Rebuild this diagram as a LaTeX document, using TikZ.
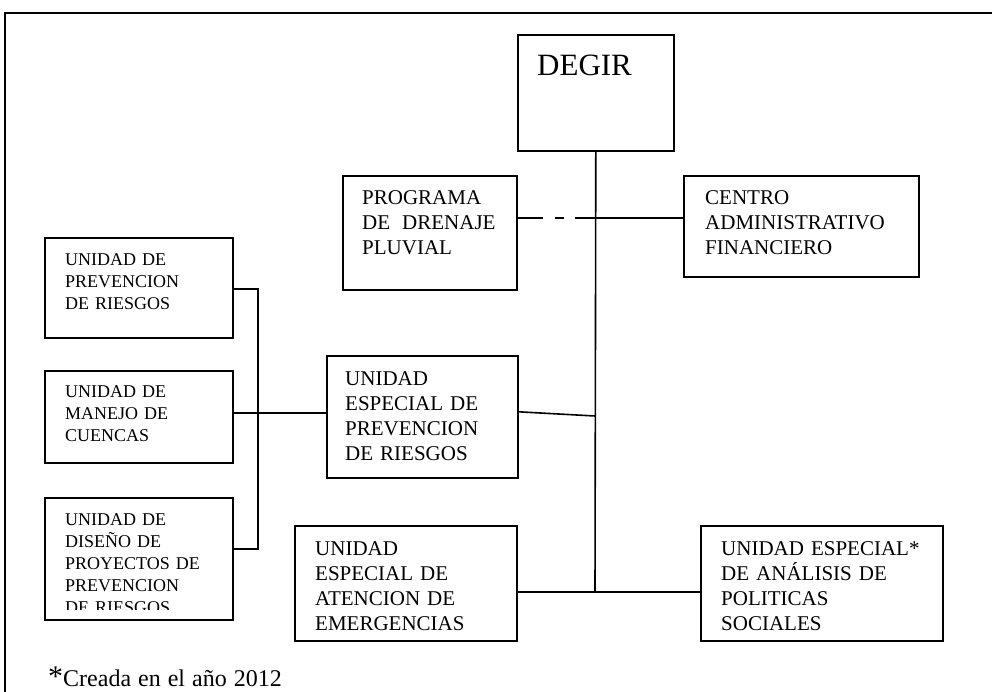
\documentclass[tikz,border=0pt]{standalone}
\usepackage{fontspec}
\setmainfont{Liberation Serif}
\usetikzlibrary{calc}

\begin{document}
\begin{tikzpicture}[x=1pt,y=-1pt,
	unit_box/.style={draw,line width=1.6pt,anchor=north west,inner sep=0pt},
	unit_text/.style={anchor=base west,inner sep=0pt,text width=240pt,align=left,font=\fontsize{21}{25}\selectfont},
	small_text/.style={unit_text,font=\fontsize{18}{22}\selectfont},
	link/.style={line width=1.6pt}]
	\useasboundingbox (0,0) rectangle (992,692);
	\draw[link] (5,692) -- (5,13) -- (992,13);
	
	% boxes
	\node[unit_box, minimum width=156pt, minimum height=116pt] (degir) at (517,34) {};
	\node[unit_box, minimum width=174pt, minimum height=114pt] (prog) at (342,175) {};
	\node[unit_box, minimum width=235pt, minimum height=101pt] (centro) at (683,175) {};
	\node[unit_box, minimum width=191pt, minimum height=122pt] (uepr) at (326,355) {};
	\node[unit_box, minimum width=188pt, minimum height=100pt] (upr) at (44,237) {};
	\node[unit_box, minimum width=188pt, minimum height=92pt] (umc) at (44,370) {};
	\node[unit_box, minimum width=188pt, minimum height=122pt] (udp) at (44,497) {};
	\node[unit_box, minimum width=222pt, minimum height=115pt] (ueae) at (294,525) {};
	\node[unit_box, minimum width=242pt, minimum height=115pt] (ueap) at (700,525) {};
	
	% texts
	\node[unit_text, font=\fontsize{31}{31}\selectfont] (degir_t) at (537,76) {DEGIR};
	\node[unit_text] (prog_t) at (362,205) {PROGRAMA\\DE\hspace{12pt}DRENAJE\\PLUVIAL};
	\node[unit_text] (centro_t) at (705,205) {CENTRO\\ADMINISTRATIVO\\FINANCIERO};
	\node[unit_text] (uepr_t) at (345,385) {UNIDAD\\ESPECIAL DE\\PREVENCION\\DE RIESGOS};
	\node[unit_text] (ueae_t) at (315,555) {UNIDAD\\ESPECIAL DE\\ATENCION DE\\EMERGENCIAS};
	\node[unit_text] (ueap_t) at (721,555) {UNIDAD ESPECIAL*\\DE ANÁLISIS DE\\POLITICAS\\SOCIALES};
	\node[small_text] (upr_t) at (65,265.5) {UNIDAD DE\\PREVENCION\\DE RIESGOS};
	\node[small_text] (umc_t) at (65,397) {UNIDAD DE\\MANEJO DE\\CUENCAS};
	\begin{scope}
		\clip (44,497) rectangle (232,609);
		\node[small_text] (udp_t) at (65,525) {UNIDAD DE\\DISEÑO DE\\PROYECTOS DE\\PREVENCION\\DE RIESGOS};
	\end{scope}
	\node[unit_text, text width=400pt] (nota) at (48,686.5) {{\fontsize{30}{30}\selectfont *}{\fontsize{24}{24}\selectfont Creada en el año 2012}};
	
	% connectors
	\coordinate (j1) at (595,218);
	\coordinate (j2) at (595,416);
	\coordinate (j3) at (595,592);
	\coordinate (b1) at (258,289);
	\coordinate (b2) at (258,413);
	\coordinate (b3) at (258,549);
	\draw[link] (degir.south) -- (j3);
	\draw[link, dash pattern=on 25pt off 12pt on 9pt off 11pt on 40pt] (prog.east |- j1) -- (j1);
	\draw[link] (j1) -- (centro.west |- j1);
	\draw[link] ([yshift=5pt]uepr.east) -- (j2);
	\draw[link] (upr.east |- b1) -- (b1) -- (b3) -- (udp.east |- b3);
	\draw[link] (umc.east |- b2) -- (uepr.west |- b2);
	\draw[link] (ueae.east |- j3) -- (ueap.west |- j3);
\end{tikzpicture}
\end{document}
